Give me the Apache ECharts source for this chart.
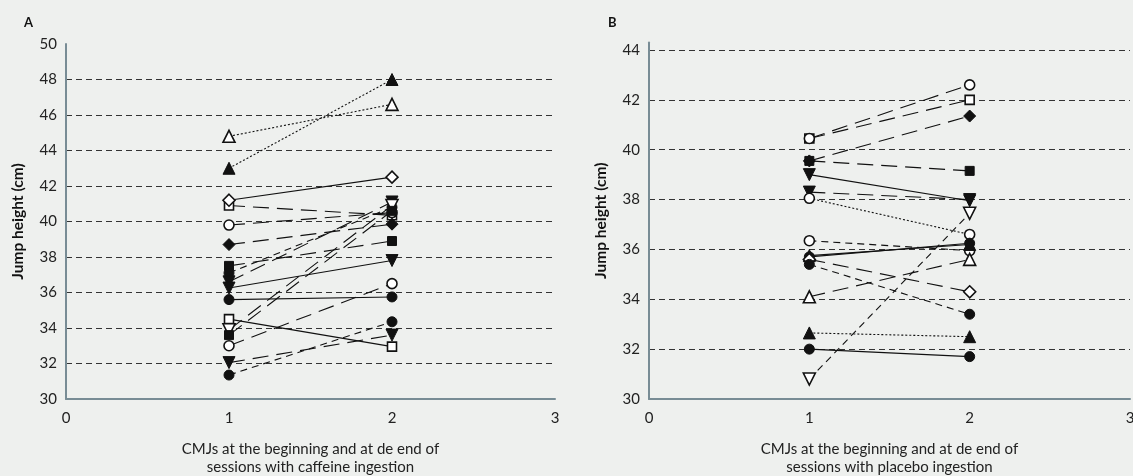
<!DOCTYPE html>
<html><head><meta charset="utf-8">
<script src="https://cdn.jsdelivr.net/npm/echarts@6/dist/echarts.min.js"></script>
<style>html,body{margin:0;padding:0;background:#eef0ee}#c{width:1133px;height:476px}</style>
</head><body><div id="c"></div>
<script>
// ---- data ----
const sessions = [1, 2];
const xTicks = [0, 1, 2, 3];
const yTicksA = [30, 32, 34, 36, 38, 40, 42, 44, 46, 48, 50];
const yTicksB = [30, 32, 34, 36, 38, 40, 42, 44];
// Panel A: caffeine (jump height, cm) at session start / end
const caffeineStart = [44.8, 43.0, 40.9, 41.2, 39.8, 38.7, 37.5, 37.1, 36.6, 36.25, 35.6, 34.5, 33.9, 33.6, 33.0, 32.05, 31.35];
const caffeineEnd   = [46.6, 48.0, 40.35, 42.5, 40.5, 39.85, 38.9, 40.8, 41.1, 37.8, 35.75, 32.95, 40.9, 40.6, 36.5, 33.6, 34.35];
// Panel B: placebo
const placeboStart = [40.45, 40.45, 39.55, 39.55, 39.0, 38.3, 38.05, 36.35, 35.7, 35.75, 35.6, 35.4, 34.1, 32.65, 32.0, 30.8];
const placeboEnd   = [42.0, 42.6, 41.35, 39.15, 37.95, 38.0, 36.6, 35.95, 36.25, 36.2, 34.3, 33.4, 35.6, 32.5, 31.7, 37.45];

// ---- styles (per participant) ----
const markA = ['tri','tri','sq','dia','ci','dia','sq','ci','itri','itri','ci','sq','itri','sq','ci','itri','ci'];
const openA = [1,0,1,1,1,0,0,0,0,0,0,1,1,0,1,0,0];
const dashA = ['dot','dot','long','solid','long','long','long','dash','long','solid','solid','solid','long','long','long','long','dash'];
const markB = ['sq','ci','dia','sq','itri','itri','ci','ci','ci','tri','dia','ci','tri','tri','ci','itri'];
const openB = [1,1,0,0,0,0,1,1,0,0,1,0,1,0,0,1];
const dashB = ['long','long','long','long','solid','long','dot','dash','solid','solid','long','dash','long','dot','solid','dash'];

const dashMap = {solid:'solid', dot:[2,2], dash:[7,5], long:[16,8]};
const symMap = {tri:'triangle', itri:'triangle', ci:'circle', sq:'rect', dia:'diamond'};
const sizeMap = {tri:12, itri:12, ci:10, sq:9, dia:12};

function buildSeries(starts, ends, marks, opens, dashes, axisIdx){
  return starts.map((s,i)=>({
    type:'line', xAxisIndex:axisIdx, yAxisIndex:axisIdx,
    data:[[sessions[0], s],[sessions[1], ends[i]]],
    symbol: symMap[marks[i]], symbolSize: sizeMap[marks[i]],
    symbolRotate: marks[i]==='itri' ? 180 : 0,
    showAllSymbol:true, animation:false, silent:true,
    lineStyle:{color:'#111', width:1.1, type:dashMap[dashes[i]]},
    itemStyle:{color: opens[i] ? '#ffffff' : '#111', borderColor:'#111', borderWidth: opens[i] ? 1.6 : 1},
    z: 2
  }));
}

const font = 'Lato, "Open Sans", "Noto Sans", sans-serif';
function xAxis(idx, name){
  return {
    type:'value', gridIndex:idx, min:xTicks[0], max:xTicks[xTicks.length-1], interval:1,
    axisLine:{show:true, lineStyle:{color:'#788c95', width:2}},
    axisTick:{show:false}, splitLine:{show:false},
    axisLabel:{color:'#222', fontSize:15, fontFamily:font, margin:12},
    name:name, nameLocation:'middle', nameGap:41,
    nameTextStyle:{color:'#222', fontSize:15, fontFamily:font, lineHeight:18}
  };
}
function yAxis(idx, ticks, max){
  return {
    type:'value', gridIndex:idx, min:ticks[0], max:max, interval:2,
    axisLine:{show:true, lineStyle:{color:'#788c95', width:2}},
    axisTick:{show:false},
    axisLabel:{color:'#222', fontSize:15, fontFamily:font, margin:9, showMaxLabel: max===ticks[ticks.length-1],
      formatter: v => ticks.includes(v) ? String(v) : ''},
    splitLine:{show:true, showMinLine:false, showMaxLine:false, lineStyle:{color:'#333', width:1, type:[6,4]}},
    name:'Jump height (cm)', nameLocation:'middle', nameGap:40,
    nameTextStyle:{color:'#111', fontSize:15.5, fontWeight:'bold', fontFamily:font}
  };
}

const chart = echarts.init(document.getElementById('c'), null, {renderer:'canvas'});
chart.setOption({
  backgroundColor:'#eef0ee',
  animation:false,
  title:[
    {text:'A', left:19, top:11, textStyle:{fontSize:13, fontWeight:'bold', color:'#111', fontFamily:font}},
    {text:'B', left:603, top:11, textStyle:{fontSize:13, fontWeight:'bold', color:'#111', fontFamily:font}}
  ],
  grid:[
    {left:66, top:44, width:489, height:355, outerBoundsMode:'none', containLabel:false},
    {left:649, top:42.5, width:481, height:356.5, outerBoundsMode:'none', containLabel:false}
  ],
  xAxis:[
    xAxis(0, 'CMJs at the beginning and at de end of\nsessions with caffeine ingestion'),
    xAxis(1, 'CMJs at the beginning and at de end of\nsessions with placebo ingestion')
  ],
  yAxis:[ yAxis(0, yTicksA, 50), yAxis(1, yTicksB, 44.3) ],
  series:[].concat(
    buildSeries(caffeineStart, caffeineEnd, markA, openA, dashA, 0),
    buildSeries(placeboStart, placeboEnd, markB, openB, dashB, 1)
  )
});
</script></body></html>
